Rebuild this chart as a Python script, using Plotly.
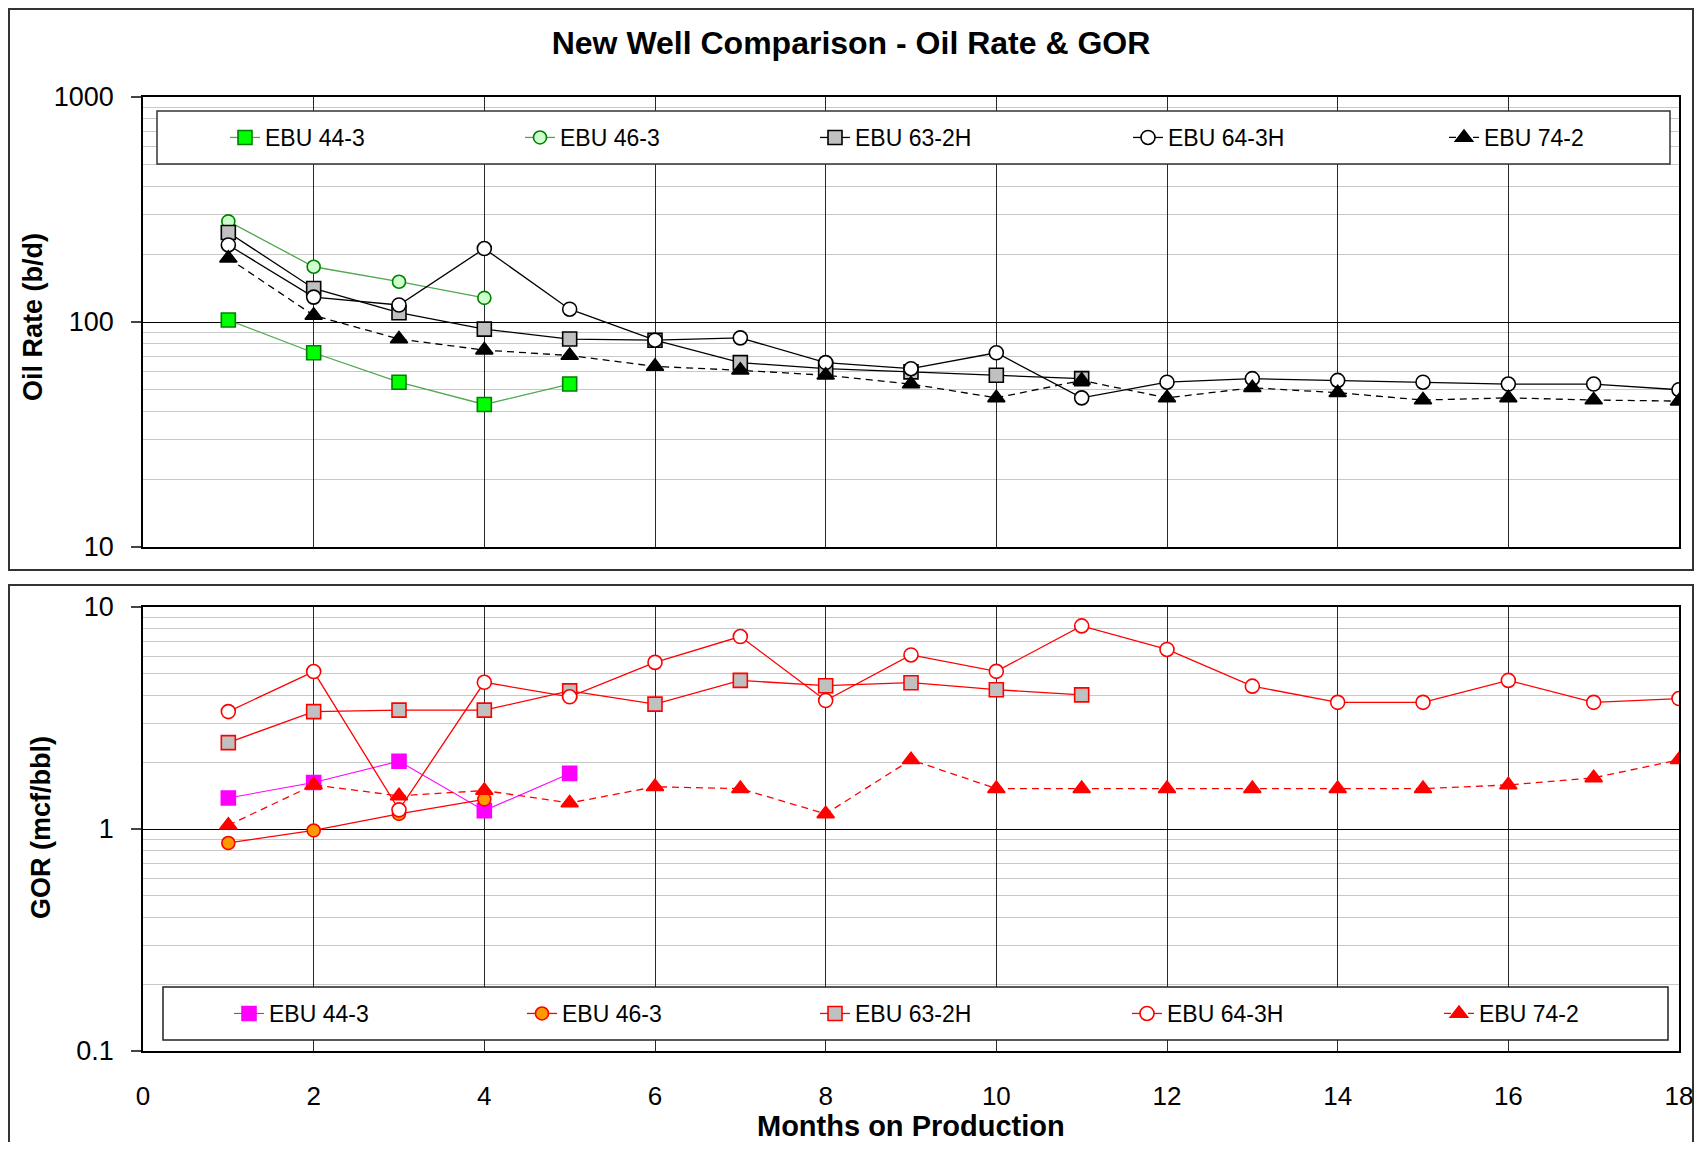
import plotly.graph_objects as go

# ---------------- data ----------------
months = list(range(1, 19))
series_names = ["EBU 44-3", "EBU 46-3", "EBU 63-2H", "EBU 64-3H", "EBU 74-2"]

oil_44_3 = [102, 73, 54, 43, 53]
oil_46_3 = [280, 176, 151, 128]
oil_63_2h = [250, 141, 110, 93, 84, 83, 66, 62, 60, 58, 56]
oil_64_3h = [220, 129, 119, 212, 114, 83, 85, 66, 62, 73, 46, 54, 56, 55, 54, 53, 53, 50]
oil_74_2 = [192, 107, 84, 75, 71, 63.5, 61, 58, 53, 46, 55, 46, 51, 48.5, 45, 46, 45, 44.5]

gor_44_3 = [1.38, 1.62, 2.02, 1.21, 1.78]
gor_46_3 = [0.865, 0.985, 1.17, 1.36]
gor_63_2h = [2.45, 3.38, 3.43, 3.43, 4.19, 3.65, 4.67, 4.42, 4.56, 4.24, 4.02]
gor_64_3h = [3.38, 5.12, 1.22, 4.58, 3.94, 5.63, 7.36, 3.79, 6.08, 5.13, 8.22, 6.44, 4.40, 3.72, 3.72, 4.67, 3.72, 3.87]
gor_74_2 = [1.04, 1.58, 1.41, 1.49, 1.31, 1.55, 1.52, 1.17, 2.05, 1.52, 1.52, 1.52, 1.52, 1.52, 1.52, 1.58, 1.70, 2.05]

month_ticks = [0, 2, 4, 6, 8, 10, 12, 14, 16, 18]
oil_ticks = [10, 100, 1000]
oil_tick_text = ["10", "100", "1000"]
gor_ticks = [0.1, 1, 10]
gor_tick_text = ["0.1", "1", "10"]

title_text = "New Well Comparison - Oil Rate & GOR"
oil_title = "Oil Rate (b/d)"
gor_title = "GOR (mcf/bbl)"
x_title = "Months on Production"

# ---------------- layout geometry (page pixels) ----------------
PAGE_W, PAGE_H = 1702, 1150
OFF = 8                      # default body margin of the written html page
W_FIG, H_FIG = PAGE_W - 2 * OFF, PAGE_H - 2 * OFF
PLOT_L, PLOT_R, PLOT_T, PLOT_B = 143, 1679, 97, 1051   # page coords of plot area
L = PLOT_L - OFF
R = W_FIG - (PLOT_R - OFF)
T = PLOT_T - OFF
B = H_FIG - (PLOT_B - OFF)
PW = W_FIG - L - R
PH = H_FIG - T - B


def px(x):
    return (x - PLOT_L) / PW


def py(y):
    return (PLOT_B - y) / PH


FONT = "Arial, Liberation Sans, Helvetica, sans-serif"

fig = go.Figure()

# legend item positions (page px of the legend symbol)
top_leg_x = [247, 542, 837, 1150, 1466]
bot_leg_x = [251, 544, 837, 1149, 1461]
top_leg_y = 137.5
bot_leg_y = 1013.5


def add(xs, ys, name, color, symbol, fill, edge, dash="solid", lw=1.3,
        size=13, axis=1, legend="legend"):
    fig.add_trace(go.Scatter(
        x=xs[:len(ys)], y=ys, name=name, mode="lines+markers",
        line=dict(color=color, width=lw, dash=dash),
        marker=dict(symbol=symbol, size=size, color=fill,
                    line=dict(color=edge, width=1.6)),
        xaxis="x" if axis == 1 else "x2",
        yaxis="y" if axis == 1 else "y2",
        legend=legend,
    ))


GREEN_LINE = "#4fa84f"
DASH = "7px,5px"

lid = ["legend", "legend2", "legend3", "legend4", "legend5",
       "legend6", "legend7", "legend8", "legend9", "legend10"]

# top panel
add(months, oil_44_3, series_names[0], GREEN_LINE, "square", "#00ff00", "#008000", size=14, legend=lid[0])
add(months, oil_46_3, series_names[1], GREEN_LINE, "circle", "#ccffcc", "#008000", size=13, legend=lid[1])
add(months, oil_63_2h, series_names[2], "#000000", "square", "#c0c0c0", "#000000", size=14, legend=lid[2])
add(months, oil_64_3h, series_names[3], "#000000", "circle", "#ffffff", "#000000", size=14, legend=lid[3])
add(months, oil_74_2, series_names[4], "#000000", "triangle-up", "#000000", "#000000", dash=DASH, size=15, legend=lid[4])

# bottom panel
add(months, gor_44_3, series_names[0], "#ff00ff", "square", "#ff00ff", "#ff00ff", lw=1.1, size=14, axis=2, legend=lid[5])
add(months, gor_46_3, series_names[1], "#ff0000", "circle", "#ff9900", "#ff0000", size=13, axis=2, legend=lid[6])
add(months, gor_63_2h, series_names[2], "#ff0000", "square", "#c0c0c0", "#ff0000", size=14, axis=2, legend=lid[7])
add(months, gor_64_3h, series_names[3], "#ff0000", "circle", "#ffffff", "#ff0000", size=14, axis=2, legend=lid[8])
add(months, gor_74_2, series_names[4], "#ff0000", "triangle-up", "#ff0000", "#ff0000", dash=DASH, size=15, axis=2, legend=lid[9])

tick_font = dict(family=FONT, size=27, color="#000000")
xtick_font = dict(family=FONT, size=26, color="#000000")
title_font = dict(family=FONT, size=27, color="#000000", weight="bold")
leg_font = dict(family=FONT, size=23, color="#000000")

xcommon = dict(
    range=[0, 18], tickmode="array", tickvals=month_ticks,
    showgrid=True, gridcolor="#2a2a2a", gridwidth=1,
    showline=True, linecolor="#000000", linewidth=1.5, mirror=True,
    zeroline=False, ticks="", tickfont=xtick_font, ticklabeloverflow="allow",
)
ycommon = dict(
    type="log", showgrid=True, gridcolor="#000000", gridwidth=1,
    minor=dict(dtick="D1", showgrid=True, gridcolor="#c8c8c8", gridwidth=1, ticks=""),
    showline=True, linecolor="#000000", linewidth=1.5, mirror=True,
    ticks="outside", ticklen=10, tickcolor="#444444", tickwidth=1.5,
    tickfont=tick_font, ticklabelstandoff=12, zeroline=False,
)

layout_legends = {}
for i in range(5):
    for pos_x, pos_y, k in ((top_leg_x, top_leg_y, i), (bot_leg_x, bot_leg_y, i + 5)):
        layout_legends[lid[k]] = dict(
            orientation="h", x=px(pos_x[i] - 22), y=py(pos_y),
            xanchor="left", yanchor="middle",
            bgcolor="rgba(0,0,0,0)", borderwidth=0,
            font=leg_font,
        )

fig.update_layout(
    width=W_FIG, height=H_FIG,
    margin=dict(l=L, r=R, t=T, b=B, pad=0, autoexpand=False),
    paper_bgcolor="white", plot_bgcolor="white",
    font=dict(family=FONT, color="#000000"),
    title=dict(text=title_text, font=dict(family=FONT, size=32, color="#000000", weight="bold"),
               x=(PAGE_W / 2 - OFF) / W_FIG, xref="container", xanchor="center",
               y=1 - (43 - OFF) / H_FIG, yref="container", yanchor="middle"),
    xaxis=dict(**xcommon, anchor="y", showticklabels=False),
    yaxis=dict(**ycommon, domain=[py(547), 1.0], range=[1, 3],
               tickmode="array", tickvals=oil_ticks, ticktext=oil_tick_text),
    xaxis2=dict(**xcommon, anchor="y2", showticklabels=True, ticklabelstandoff=21),
    yaxis2=dict(**ycommon, domain=[0.0, py(607)], range=[-1, 1],
                tickmode="array", tickvals=gor_ticks, ticktext=gor_tick_text),
    showlegend=True,
    **layout_legends,
)

# axis titles placed at the reference positions
fig.add_annotation(text=oil_title, xref="paper", yref="paper", x=px(33), y=py(317),
                   xanchor="center", yanchor="middle", textangle=-90, showarrow=False,
                   font=title_font)
fig.add_annotation(text=gor_title, xref="paper", yref="paper", x=px(41), y=py(828),
                   xanchor="center", yanchor="middle", textangle=-90, showarrow=False,
                   font=title_font)
fig.add_annotation(text=x_title, xref="paper", yref="paper", x=px(911), y=py(1126),
                   xanchor="center", yanchor="middle", showarrow=False,
                   font=dict(family=FONT, size=29, color="#000000", weight="bold"))

# panel borders (chart-area frames)
fig.add_shape(type="rect", xref="paper", yref="paper",
              x0=px(OFF + 1), x1=px(1693), y0=py(570), y1=py(OFF + 1),
              line=dict(color="#333333", width=2), fillcolor="rgba(0,0,0,0)", layer="below")
fig.add_shape(type="rect", xref="paper", yref="paper",
              x0=px(OFF + 1), x1=px(1693), y0=py(1180), y1=py(585),
              line=dict(color="#333333", width=2), fillcolor="rgba(0,0,0,0)", layer="below")

# legend frames
fig.add_shape(type="rect", xref="paper", yref="paper",
              x0=px(157), x1=px(1670), y0=py(164), y1=py(111),
              line=dict(color="#333333", width=1.5), fillcolor="white", layer="above")
fig.add_shape(type="rect", xref="paper", yref="paper",
              x0=px(163), x1=px(1668), y0=py(1040), y1=py(987),
              line=dict(color="#222222", width=1.5), fillcolor="white", layer="above")

fig.write_html("out.html")
